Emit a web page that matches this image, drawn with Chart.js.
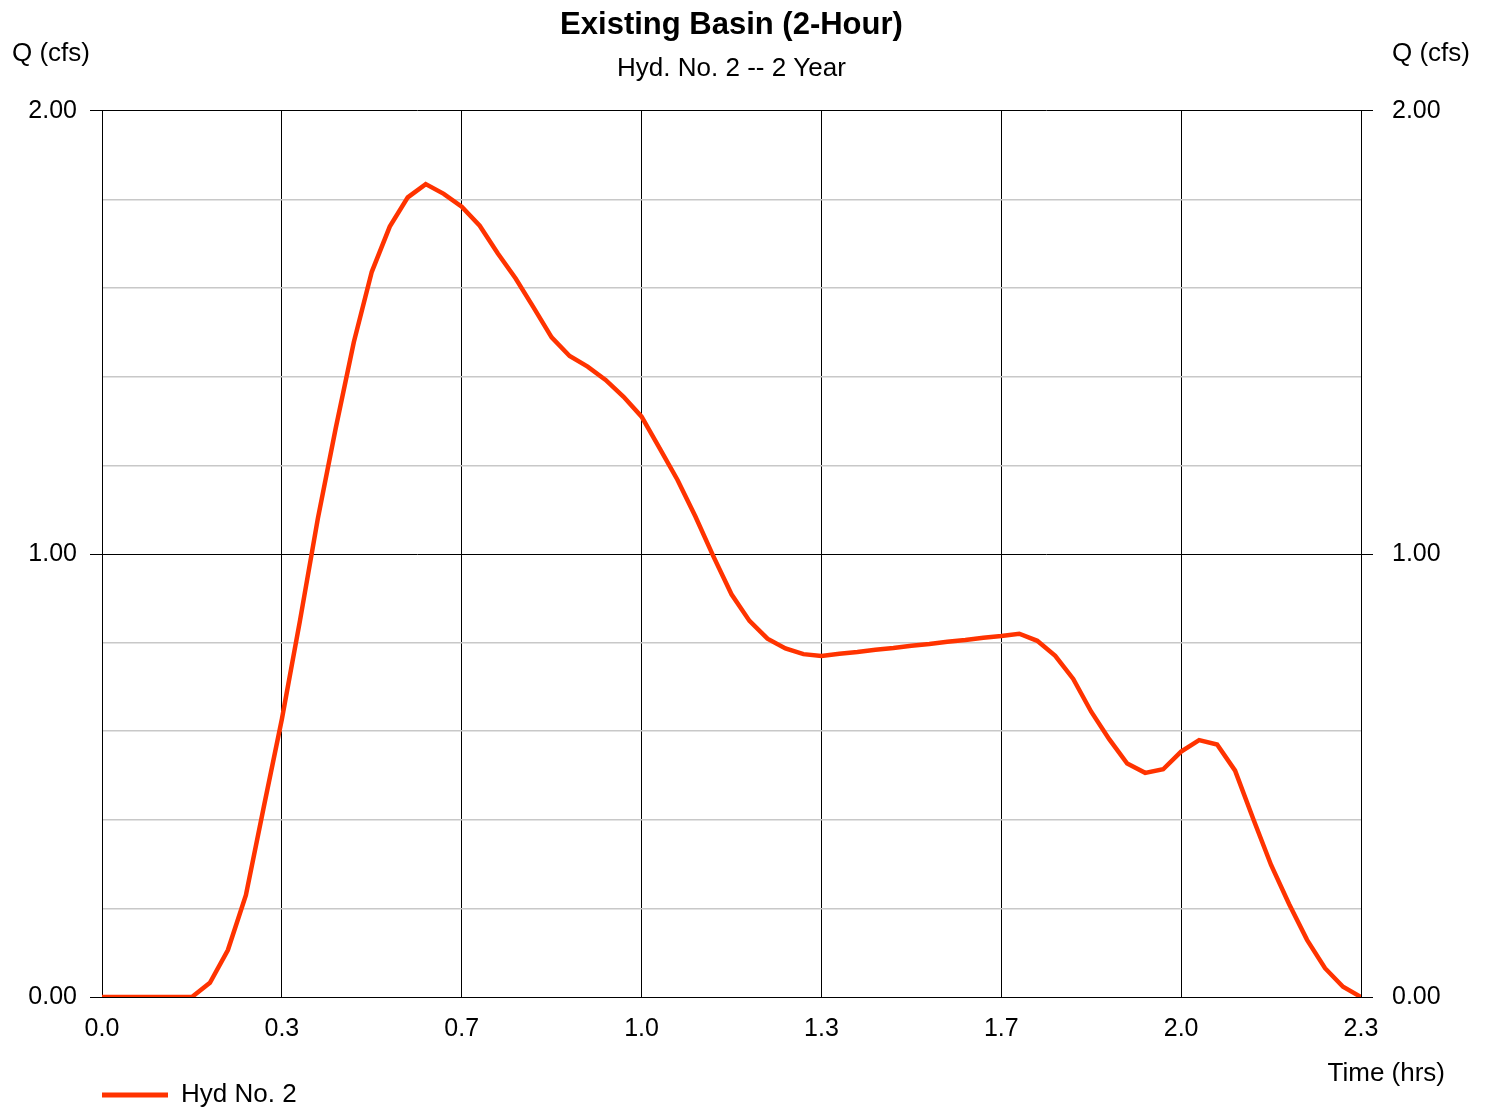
<!DOCTYPE html>
<html>
<head>
<meta charset="utf-8">
<title>Existing Basin (2-Hour)</title>
<script src="https://cdn.jsdelivr.net/npm/chart.js@4/dist/chart.umd.min.js"></script>
<style>
  body { margin: 0; background: #fff; }
  #wrap { width: 1486px; height: 1108px; position: relative; }
</style>
</head>
<body>
<div id="wrap"><canvas id="hydro"></canvas></div>
<script>
// hydrograph, 2 minute time step (hrs on the x axis)
const stepMin = 2;
const flows = [
	0, 0, 0, 0, 0, 0, 0.032, 0.106, 0.230, 0.430,
	0.627, 0.848, 1.080, 1.285, 1.478, 1.637, 1.739, 1.805, 1.835, 1.813,
	1.784, 1.741, 1.679, 1.622, 1.556, 1.489, 1.447, 1.423, 1.393, 1.355,
	1.310, 1.239, 1.167, 1.084, 0.994, 0.909, 0.849, 0.809, 0.787, 0.774,
	0.770, 0.775, 0.779, 0.784, 0.788, 0.793, 0.797, 0.802, 0.806, 0.811,
	0.815, 0.820, 0.804, 0.770, 0.718, 0.644, 0.582, 0.527, 0.506, 0.514,
	0.554, 0.580, 0.570, 0.511, 0.403, 0.298, 0.210, 0.129, 0.065, 0.023,
	0
];
const times = flows.map((q, i) => (i * stepMin) / 60);

const chartTitle = "Existing Basin (2-Hour)";
const chartSubtitle = "Hyd. No. 2 -- 2 Year";
const seriesName = "Hyd No. 2";
const yUnit = "Q (cfs)";
const xUnit = "Time (hrs)";
const xMax = 7 / 3;
const yMax = 2;

const lineColor = "#ff3300";
const FONT = "'Liberation Sans', Arial, sans-serif";

Chart.defaults.font.family = FONT;
Chart.defaults.color = "#000";

function isWhole(v) {
	return Math.abs(v - Math.round(v)) < 1e-6;
}

// axis unit captions ("Q (cfs)" both sides, "Time (hrs)")
const unitLabels = {
	id: "unitLabels",
	afterDraw(chart) {
		const ctx = chart.ctx;
		ctx.save();
		ctx.font = "26px " + FONT;
		ctx.fillStyle = "#000";
		ctx.textBaseline = "middle";
		ctx.textAlign = "left";
		ctx.fillText(yUnit, 12, 54);
		ctx.textAlign = "right";
		ctx.fillText(yUnit, 1470, 54);
		ctx.fillText(xUnit, 1445, 1074);
		ctx.restore();
	},
};

let points = [];
for (let i = 0; i < flows.length; i++) {
	points.push({ x: times[i], y: flows[i] });
}

let cfg = {
	type: "line",
	data: {
		datasets: [
			{
				label: seriesName,
				data: points,
				borderColor: lineColor,
				backgroundColor: lineColor,
				borderWidth: 4.5,
				pointRadius: 0,
				tension: 0,
				fill: false,
				yAxisID: "y",
			},
		],
	},
	options: {
		responsive: true,
		maintainAspectRatio: false,
		animation: false,
		layout: { padding: { left: 0, right: 23, top: 0, bottom: 0 } },
		plugins: {
			title: {
				display: true,
				text: chartTitle,
				font: { size: 31, weight: "bold" },
				padding: { top: 6.4, bottom: 2 },
			},
			subtitle: {
				display: true,
				text: chartSubtitle,
				font: { size: 26 },
				padding: { top: 7.8, bottom: 26.4 },
			},
			legend: {
				position: "bottom",
				align: "start",
				fullSize: false,
				maxHeight: 26,
				labels: {
					font: { size: 26 },
					boxWidth: 66,
					boxHeight: 5,
					padding: 0,
					generateLabels(chart) {
						let items = Chart.defaults.plugins.legend.labels.generateLabels(chart);
						return items.map((it) => ({ ...it, lineWidth: 0, fillStyle: lineColor }));
					},
				},
			},
			tooltip: { enabled: false },
		},
		scales: {
			x: {
				type: "linear",
				min: 0,
				max: xMax,
				afterFit(s) {
					s.height = 85;
				},
				border: { display: true, color: "#000", width: 1 },
				grid: { color: "#000", lineWidth: 1, drawTicks: false },
				ticks: {
					stepSize: 1 / 3,
					autoSkip: false,
					maxRotation: 0,
					padding: 17,
					font: { size: 25 },
					callback: (v) => v.toFixed(1),
				},
			},
			y: {
				position: "left",
				min: 0,
				max: yMax,
				afterFit(s) {
					s.width = 102;
				},
				border: { display: true, color: "#000", width: 1 },
				grid: {
					color: (c) => (isWhole(c.tick.value) ? "#000" : "#c8c8c8"),
					lineWidth: (c) => (isWhole(c.tick.value) ? 1 : 1.5),
					tickColor: (c) => (isWhole(c.tick.value) ? "#000" : "rgba(0,0,0,0)"),
					tickLength: 12,
				},
				ticks: {
					stepSize: 0.2,
					autoSkip: false,
					padding: 13,
					font: { size: 25 },
					callback: (v) => (isWhole(v) ? v.toFixed(2) : ""),
				},
			},
			y2: {
				position: "right",
				min: 0,
				max: yMax,
				afterFit(s) {
					s.width = 102;
				},
				border: { display: true, color: "#000", width: 1 },
				grid: {
					drawOnChartArea: false,
					tickColor: (c) => (isWhole(c.tick.value) ? "#000" : "rgba(0,0,0,0)"),
					tickLength: 12,
				},
				ticks: {
					stepSize: 0.2,
					autoSkip: false,
					padding: 19,
					font: { size: 25 },
					callback: (v) => (isWhole(v) ? v.toFixed(2) : ""),
				},
			},
		},
	},
	plugins: [unitLabels],
};

new Chart("hydro", cfg);
</script>
</body>
</html>
